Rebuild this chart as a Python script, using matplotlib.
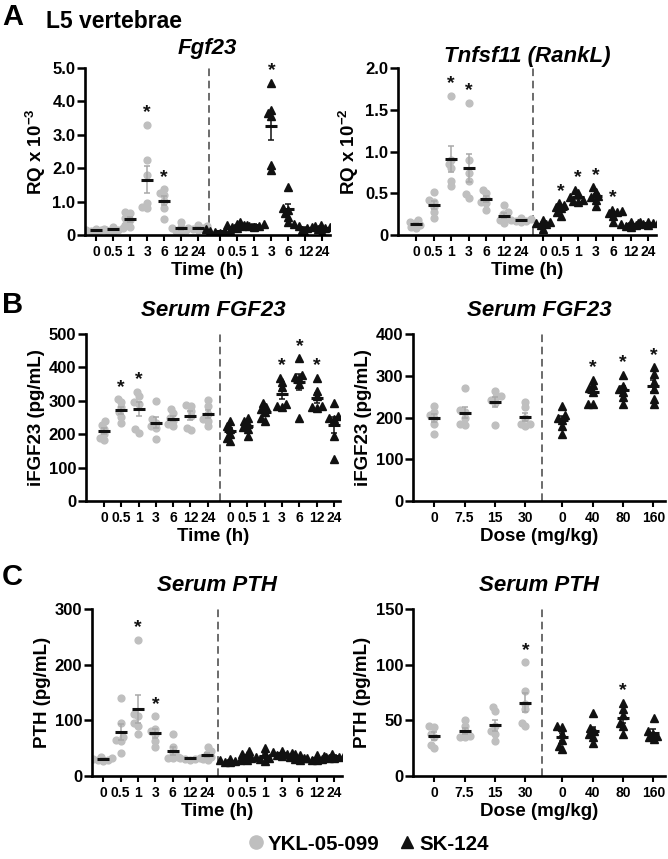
import numpy as np
import matplotlib.pyplot as plt
from matplotlib.lines import Line2D

plt.rcParams['font.family'] = ['Liberation Sans', 'DejaVu Sans']
plt.rcParams['font.weight'] = 'bold'
plt.rcParams['mathtext.fontset'] = 'custom'
plt.rcParams['mathtext.rm'] = 'Liberation Sans:bold'
plt.rcParams['mathtext.bf'] = 'Liberation Sans:bold'

GREY = '#bfbfbf'
GREY_ERR = '#a8a8a8'
BLACK = '#111111'
W, H = 668, 859

# ---- data ----
time_labels = ['0', '0.5', '1', '3', '6', '12', '24']
dose_ykl = ['0', '7.5', '15', '30']
dose_sk = ['0', '40', '80', '160']

# A: Fgf23 in L5 vertebrae (RQ x 10^-3)
fgf23_ykl = [[0.12, 0.15, 0.18, 0.10, 0.14, 0.16],
             [0.10, 0.15, 0.20, 0.25, 0.18, 0.12],
             [0.70, 0.65, 0.50, 0.45, 0.30, 0.25],
             [3.30, 2.25, 1.80, 0.95, 0.85, 0.80],
             [1.37, 1.27, 1.20, 1.03, 0.82, 0.47],
             [0.40, 0.25, 0.20, 0.15, 0.10, 0.12],
             [0.30, 0.28, 0.22, 0.20, 0.15, 0.18]]
fgf23_sk = [[0.15, 0.12, 0.10, 0.08, 0.18, 0.05],
            [0.32, 0.30, 0.25, 0.28, 0.22, 0.30],
            [0.38, 0.32, 0.28, 0.25, 0.30, 0.27],
            [4.55, 3.75, 3.65, 3.55, 2.10, 1.95],
            [1.45, 0.80, 0.75, 0.65, 0.55, 0.40],
            [0.32, 0.28, 0.25, 0.20, 0.15, 0.05],
            [0.30, 0.28, 0.25, 0.22, 0.18, 0.10]]
fgf23_stars_ykl = [3, 4]
fgf23_stars_sk = [3]

# A: Tnfsf11 (RankL) (RQ x 10^-2)
rankl_ykl = [[0.18, 0.16, 0.14, 0.12, 0.10, 0.08],
             [0.52, 0.42, 0.40, 0.34, 0.28, 0.20],
             [1.67, 0.90, 0.85, 0.80, 0.65, 0.59],
             [1.58, 0.90, 0.74, 0.65, 0.49, 0.44],
             [0.54, 0.50, 0.44, 0.40, 0.38, 0.30],
             [0.36, 0.27, 0.25, 0.20, 0.14, 0.18],
             [0.20, 0.19, 0.18, 0.17, 0.17, 0.16]]
rankl_sk = [[0.18, 0.16, 0.14, 0.13, 0.12, 0.07],
            [0.38, 0.36, 0.34, 0.32, 0.27, 0.23],
            [0.54, 0.50, 0.45, 0.42, 0.40, 0.41],
            [0.57, 0.52, 0.47, 0.45, 0.42, 0.35],
            [0.30, 0.29, 0.27, 0.26, 0.23, 0.16],
            [0.16, 0.15, 0.13, 0.12, 0.11, 0.10],
            [0.16, 0.15, 0.14, 0.14, 0.13, 0.12]]
rankl_stars_ykl = [2, 3]
rankl_stars_sk = [1, 2, 3, 4]

# B: serum FGF23 time course (pg/mL)
sfgf_t_ykl = [[240, 228, 215, 200, 190, 183],
              [305, 295, 280, 265, 252, 235],
              [327, 313, 295, 290, 215, 205],
              [300, 245, 235, 225, 218, 185],
              [275, 262, 250, 240, 230, 225],
              [288, 285, 270, 255, 220, 212],
              [302, 285, 260, 245, 240, 225]]
sfgf_t_sk = [[240, 225, 215, 200, 190, 180],
             [250, 240, 230, 222, 215, 195],
             [292, 280, 275, 265, 250, 240],
             [368, 355, 340, 290, 285, 282],
             [427, 378, 372, 365, 350, 250],
             [368, 330, 315, 283, 280, 278],
             [292, 255, 250, 245, 195, 125]]
sfgf_t_stars_ykl = [1, 2]
sfgf_t_stars_sk = [3, 4, 5]

# B: serum FGF23 dose response (pg/mL)
sfgf_d_ykl = [[228, 212, 205, 200, 185, 160],
              [270, 218, 212, 200, 185, 183],
              [263, 252, 248, 242, 235, 182],
              [237, 225, 200, 185, 180, 185]]
sfgf_d_sk = [[227, 205, 200, 195, 180, 160],
             [290, 278, 270, 262, 232, 232],
             [302, 275, 268, 262, 250, 232],
             [320, 305, 285, 268, 245, 232]]
sfgf_d_stars_ykl = []
sfgf_d_stars_sk = [1, 2, 3]

# C: serum PTH time course (pg/mL)
pth_t_ykl = [[35, 33, 30, 28, 28, 27],
             [141, 95, 70, 65, 62, 42],
             [245, 112, 108, 95, 90, 75],
             [107, 85, 80, 75, 62, 52],
             [75, 52, 42, 35, 33, 33],
             [36, 33, 32, 30, 30, 29],
             [52, 45, 40, 35, 30, 29]]
pth_t_sk = [[30, 29, 28, 27, 26, 25],
            [45, 40, 37, 33, 30, 28],
            [50, 40, 35, 32, 30, 27],
            [45, 43, 41, 40, 38, 36],
            [40, 37, 34, 32, 30, 28],
            [37, 34, 32, 30, 29, 28],
            [40, 38, 36, 35, 33, 32]]
pth_t_stars_ykl = [2, 3]
pth_t_stars_sk = []

# C: serum PTH dose response (pg/mL)
pth_d_ykl = [[45, 44, 38, 35, 28, 25],
             [50, 45, 40, 36, 35, 35],
             [62, 58, 45, 40, 38, 31],
             [102, 76, 65, 60, 48, 45]]
pth_d_sk = [[45, 44, 38, 32, 27, 24],
            [57, 43, 40, 38, 35, 30],
            [66, 60, 55, 48, 45, 38],
            [52, 40, 38, 36, 35, 33]]
pth_d_stars_ykl = [3]
pth_d_stars_sk = [2]


def swarm(ypx, d):
    # simple beeswarm: returns x offsets in pixels
    xs = np.zeros(len(ypx))
    placed = []
    cands = sorted(np.arange(-3 * d, 3 * d + 0.01, 0.5), key=abs)
    for i in np.argsort(ypx):
        for c in cands:
            if all((c - px) ** 2 + (ypx[i] - py) ** 2 >= d * d for px, py in placed):
                xs[i] = c
                placed.append((c, ypx[i]))
                break
    return xs


def panel(box, ykl, sk, st_ykl, st_sk, lab1, lab2, yticks, yticklabels,
          ylabel, xlabel, title, pad, xlim, gap, dash):
    x0, x1, ytop, ybot = box
    ax = fig.add_axes([x0 / W, 1 - ybot / H, (x1 - x0) / W, (ybot - ytop) / H])
    ymax = yticks[-1]
    ax.set_xlim(*xlim)
    ax.set_ylim(0, ymax)
    px_x = (x1 - x0) / (xlim[1] - xlim[0])
    px_y = (ybot - ytop) / ymax

    n = len(ykl)
    for data, stars, off, col, ecol, mk, ms in [
            (ykl, st_ykl, 0, GREY, GREY_ERR, 'o', 4.9),
            (sk, st_sk, gap, BLACK, BLACK, '^', 5.3)]:
        for i, vals in enumerate(data):
            vals = np.array(vals, dtype=float)
            xc = off + i
            dx = swarm(vals * px_y, 4.8) / px_x
            ax.plot(xc + dx, vals, ls='none', marker=mk, ms=ms, color=col,
                    mec=col, zorder=2)
            m = vals.mean()
            sem = vals.std(ddof=1) / np.sqrt(len(vals))
            ax.errorbar(xc, m, yerr=sem, color=ecol, lw=1.1, capsize=2.3,
                        capthick=1.1, zorder=3)
            ax.plot(xc, m, marker='_', ms=9, mew=2.2, color=BLACK, zorder=4)
            if i in stars:
                ax.text(xc, vals.max() + 0.045 * ymax, '*', ha='center',
                        va='baseline', fontsize=14, fontweight='bold', color=BLACK)

    ax.axvline(dash, color='#444444', lw=1.1, ls=(0, (5, 3)), zorder=1)

    ax.set_xticks(list(range(n)) + [gap + i for i in range(n)])
    ax.set_xticklabels(lab1 + lab2)
    ax.set_yticks(yticks)
    ax.set_yticklabels(yticklabels)
    for s in ['top', 'right']:
        ax.spines[s].set_visible(False)
    for s in ['left', 'bottom']:
        ax.spines[s].set_linewidth(1.9)
    ax.tick_params(axis='y', length=5.5, width=1.8, labelsize=12, pad=1.5)
    ax.tick_params(axis='x', length=4, width=1.5, labelsize=10, pad=3.5)
    ax.set_ylabel(ylabel, fontsize=13.5, fontweight='bold', labelpad=3)
    ax.set_xlabel(xlabel, fontsize=13.5, fontweight='bold', labelpad=2)
    ax.set_title(title, fontsize=16, fontweight='bold', style='italic', pad=pad)
    return ax


fig = plt.figure(figsize=(W / 100, H / 100), dpi=100)

panel((85, 330, 68, 235), fgf23_ykl, fgf23_sk, fgf23_stars_ykl, fgf23_stars_sk,
      time_labels, time_labels, [0, 1, 2, 3, 4, 5],
      ['0', '1.0', '2.0', '3.0', '4.0', '5.0'],
      'RQ x 10$^{-3}$', 'Time (h)', 'Fgf23', 10, (-0.65, 13.75), 7.3, 6.65)
panel((398, 656, 68, 235), rankl_ykl, rankl_sk, rankl_stars_ykl, rankl_stars_sk,
      time_labels, time_labels, [0, 0.5, 1.0, 1.5, 2.0],
      ['0', '0.5', '1.0', '1.5', '2.0'],
      'RQ x 10$^{-2}$', 'Time (h)', 'Tnfsf11 (RankL)', 4.5, (-1.03, 13.7), 7.25, 6.65)
panel((86, 340, 334, 501), sfgf_t_ykl, sfgf_t_sk, sfgf_t_stars_ykl, sfgf_t_stars_sk,
      time_labels, time_labels, [0, 100, 200, 300, 400, 500],
      ['0', '100', '200', '300', '400', '500'],
      'iFGF23 (pg/mL)', 'Time (h)', 'Serum FGF23', 13, (-1.04, 13.65), 7.3, 6.7)
panel((413, 665, 334, 501), sfgf_d_ykl, sfgf_d_sk, sfgf_d_stars_ykl, sfgf_d_stars_sk,
      dose_ykl, dose_sk, [0, 100, 200, 300, 400],
      ['0', '100', '200', '300', '400'],
      'iFGF23 (pg/mL)', 'Dose (mg/kg)', 'Serum FGF23', 13, (-0.7, 7.6), 4.22, 3.55)
panel((92, 342, 609, 776), pth_t_ykl, pth_t_sk, pth_t_stars_ykl, pth_t_stars_sk,
      time_labels, time_labels, [0, 100, 200, 300],
      ['0', '100', '200', '300'],
      'PTH (pg/mL)', 'Time (h)', 'Serum PTH', 13, (-0.65, 13.75), 7.3, 6.6)
panel((413, 665, 609, 776), pth_d_ykl, pth_d_sk, pth_d_stars_ykl, pth_d_stars_sk,
      dose_ykl, dose_sk, [0, 50, 100, 150],
      ['0', '50', '100', '150'],
      'PTH (pg/mL)', 'Dose (mg/kg)', 'Serum PTH', 13, (-0.7, 7.6), 4.22, 3.55)

# panel letters
fig.text(2 / W, 1 - 17 / H, 'A', fontsize=21, fontweight='bold', va='center')
fig.text(46 / W, 1 - 21 / H, 'L5 vertebrae', fontsize=16.5, fontweight='bold', va='center')
fig.text(2 / W, 1 - 305 / H, 'B', fontsize=21, fontweight='bold', va='center')
fig.text(2 / W, 1 - 577 / H, 'C', fontsize=21, fontweight='bold', va='center')

handles = [Line2D([], [], ls='none', marker='o', ms=9.5, color=GREY),
           Line2D([], [], ls='none', marker='^', ms=9, color=BLACK)]
fig.legend(handles, ['YKL-05-099', 'SK-124'], loc='center',
           bbox_to_anchor=(367 / W, 1 - 844 / H), ncol=2, frameon=False,
           prop={'size': 14.8, 'weight': 'bold'}, handletextpad=0.1,
           columnspacing=0.8, handlelength=1.0)

fig.savefig('out.png', dpi=100)
